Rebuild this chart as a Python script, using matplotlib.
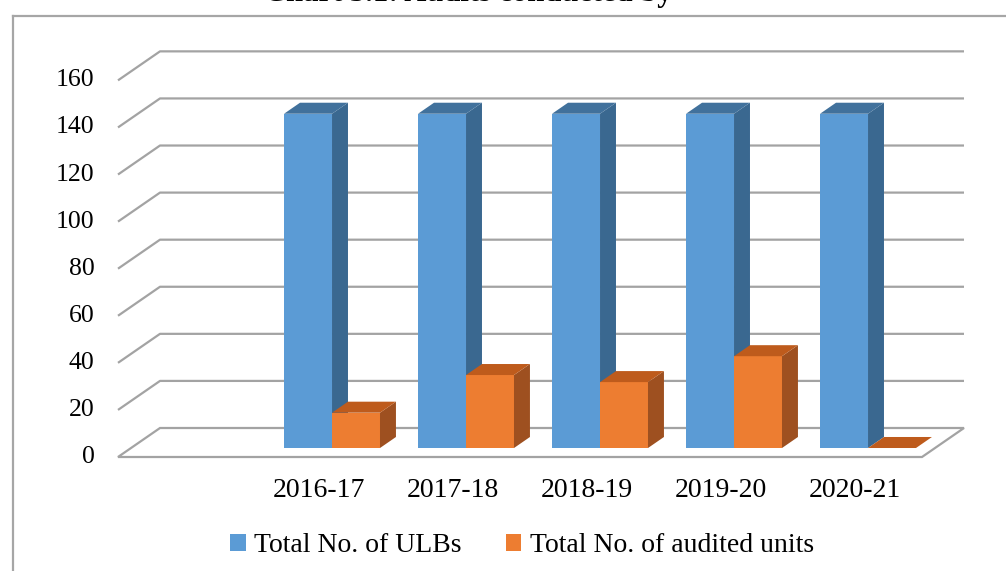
import numpy as np
import matplotlib.pyplot as plt
from matplotlib.patches import Polygon, Patch
from matplotlib.lines import Line2D

# data (first category is an empty slot, as in the original chart)
years = ["", "2016-17", "2017-18", "2018-19", "2019-20", "2020-21"]
total_ulbs = [np.nan, 142, 142, 142, 142, 142]
audited_units = [np.nan, 15, 31, 28, 39, 0]
yticks = [0, 20, 40, 60, 80, 100, 120, 140, 160]
series_names = ["Total No. of ULBs", "Total No. of audited units"]

plt.rcParams["font.family"] = ["Liberation Serif", "DejaVu Serif"]

W, H = 1006, 571
XS, YS = 134.0, 2.354          # px per category / px per unit
X0, Y0 = 118, 457              # pixel of data origin (front floor corner)
DX, DY = 42 / XS, 29 / YS      # depth offset in data units
d0, d1 = 0.31, 0.69            # bar depth band
bw, gap = 0.358, 0.142

blue = ("#5B9BD5", "#41719C", "#3A6890")
orange = ("#ED7D31", "#BE5B1C", "#9E5020")
grid_c = "#A3A3A3"

fig = plt.figure(figsize=(W / 100, H / 100), dpi=100)
ax = fig.add_axes([0, 0, 1, 1])
ax.set_xlim(-X0 / XS, (W - X0) / XS)
ax.set_ylim((Y0 - H) / YS, Y0 / YS)
ax.axis("off")

n = len(years)

# floor
floor = [(0, 0), (n, 0), (n + DX, DY), (DX, DY)]
ax.add_patch(Polygon(floor, closed=True, facecolor="white",
                     edgecolor=grid_c, lw=1.6, zorder=1))
# gridlines with left wall ticks
for v in yticks[1:]:
    ax.plot([0, DX, n + DX], [v, v + DY, v + DY], color=grid_c, lw=1.6,
            zorder=1, solid_capstyle="butt")
for v in yticks:
    ax.annotate(str(v), (0, v), xytext=(-17, 0), textcoords="offset points",
                ha="right", va="center", fontsize=18.5)


def box(x0, x1, v, cols):
    front, top, side = cols
    ox0, oy0 = d0 * DX, d0 * DY
    ox1, oy1 = d1 * DX, d1 * DY
    if v > 0:
        ax.add_patch(Polygon([(x0 + ox0, oy0), (x1 + ox0, oy0),
                              (x1 + ox0, v + oy0), (x0 + ox0, v + oy0)],
                             facecolor=front, lw=0, zorder=3))
        ax.add_patch(Polygon([(x1 + ox0, oy0), (x1 + ox1, oy1),
                              (x1 + ox1, v + oy1), (x1 + ox0, v + oy0)],
                             facecolor=side, lw=0, zorder=3))
    ax.add_patch(Polygon([(x0 + ox0, v + oy0), (x1 + ox0, v + oy0),
                          (x1 + ox1, v + oy1), (x0 + ox1, v + oy1)],
                         facecolor=top, lw=0, zorder=3))


for i in range(n):
    if not np.isnan(total_ulbs[i]):
        box(i + gap, i + gap + bw, total_ulbs[i], blue)
    if not np.isnan(audited_units[i]):
        box(i + gap + bw, i + gap + 2 * bw, audited_units[i], orange)
    ax.annotate(years[i], (i + 0.5, 0), xytext=(0, -24),
                textcoords="offset points", ha="center", va="center",
                fontsize=20)

handles = [Patch(facecolor=blue[0]), Patch(facecolor=orange[0])]
fig.legend(handles, series_names, loc="center", ncol=2, frameon=False,
           bbox_to_anchor=(522 / W, 1 - 546 / H), fontsize=20,
           handlelength=0.55, handleheight=0.55, handletextpad=0.3,
           columnspacing=1.6)

# cropped title and outer frame
fig.text(468 / W, 1 - 1 / H, "Chart 3.1: Audits conducted by",
         ha="center", va="baseline", fontsize=22, fontweight="bold")
fig.add_artist(Line2D([13 / W, 13 / W], [0, 1 - 16 / H], color="#A6A6A6",
                      lw=1.6, transform=fig.transFigure))
fig.add_artist(Line2D([13 / W, 1], [1 - 16 / H, 1 - 16 / H], color="#A6A6A6",
                      lw=1.6, transform=fig.transFigure))

fig.savefig("out.png", dpi=100)
